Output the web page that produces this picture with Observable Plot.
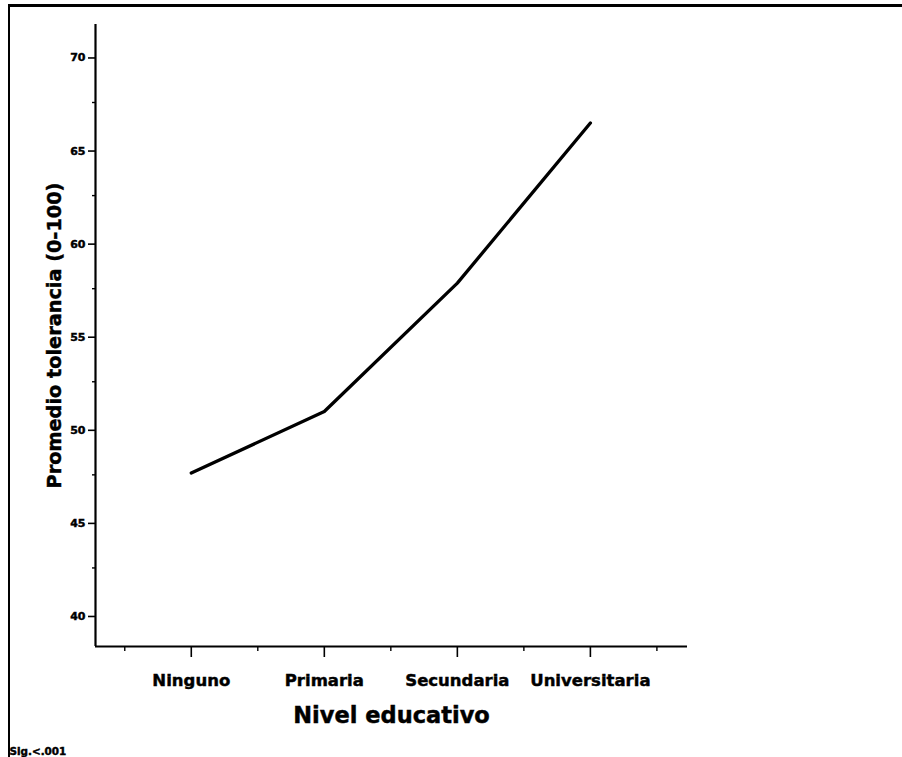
<!DOCTYPE html>
<html>
<head>
<meta charset="utf-8">
<script src="https://cdn.jsdelivr.net/npm/d3@7"></script>
<script src="https://cdn.jsdelivr.net/npm/@observablehq/plot@0.6"></script>
<style>
  html, body { margin: 0; padding: 0; background: #fff; }
  #wrap { position: relative; width: 902px; height: 757px; overflow: hidden; }
  #frame { position: absolute; left: 8px; top: 4px; width: 900px; height: 760px;
           border-top: 3px solid #000; border-left: 2px solid #000; box-sizing: border-box; }
  #chart { position: absolute; left: 0; top: 0; }
  #chart svg text { stroke: #000; stroke-width: 0.45px; }
</style>
</head>
<body>
<div id="wrap"><div id="frame"></div><div id="chart"></div></div>
<script>
const categories = ["Ninguno", "Primaria", "Secundaria", "Universitaria"];
const values = [47.6, 50.9, 57.8, 66.4];
const yTicks = [40, 45, 50, 55, 60, 65, 70];
const yMinorTicks = [42.5, 47.5, 52.5, 57.5, 62.5, 67.5];
const xMinorTicks = [-0.5, 0.5, 1.5, 2.5, 3.5];
const yTitle = "Promedio tolerancia (0-100)";
const xTitle = "Nivel educativo";
const note = "Sig.<.001";

const data = categories.map((c, i) => ({idx: i, cat: c, v: values[i]}));
const font = "'DejaVu Sans', Arial, Helvetica, sans-serif";

const chart = Plot.plot({
  width: 902,
  height: 757,
  marginLeft: 95,
  marginRight: 215,
  marginTop: 24,
  marginBottom: 111,
  style: {fontFamily: font, background: "transparent", color: "#000"},
  x: {type: "linear", domain: [-0.72, 3.73], label: null},
  y: {domain: [38.28, 71.69], label: null},
  marks: [
    Plot.axisY(yTicks, {tickSize: 7, tickPadding: 3, fontSize: 11, fontWeight: "bold", dy: 2, strokeWidth: 1.6, label: null}),
    Plot.axisY(yMinorTicks, {tickSize: 3, tickFormat: () => "", strokeWidth: 1.4, label: null}),
    Plot.axisX([0, 1, 2, 3], {tickSize: 11, tickPadding: 17, fontSize: 16.5, fontWeight: "bold", tickFormat: i => categories[i], strokeWidth: 1.6, label: null}),
    Plot.axisX(xMinorTicks, {tickSize: 5, tickFormat: () => "", strokeWidth: 1.4, label: null}),
    Plot.ruleX([-0.72], {strokeWidth: 2.2}),
    Plot.ruleY([38.28], {strokeWidth: 2.2}),
    Plot.line(data, {x: "idx", y: "v", stroke: "#000", strokeWidth: 3.3}),
    Plot.text([yTitle], {frameAnchor: "left", rotate: -90, dx: -41, fontSize: 19.3, fontWeight: "bold", textAnchor: "middle"}),
    Plot.text([xTitle], {frameAnchor: "bottom", dy: 76, fontSize: 22.5, fontWeight: "bold", textAnchor: "middle"}),
    Plot.text([note], {frameAnchor: "bottom-left", dx: -86, dy: 108, fontSize: 10.4, fontWeight: "bold", textAnchor: "start", lineAnchor: "bottom"})
  ]
});
document.getElementById("chart").appendChild(chart);
</script>
</body>
</html>
